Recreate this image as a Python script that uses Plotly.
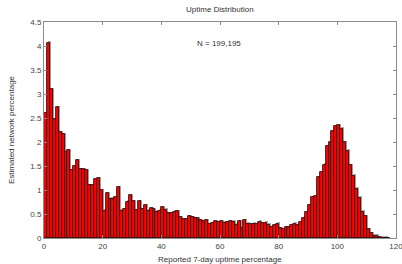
import plotly.graph_objects as go

bins = list(range(0, 118))
values = [
    2.60, 4.07, 3.10, 2.47, 2.72, 2.20, 2.16, 1.80, 1.83, 1.42,
    1.50, 1.62, 1.43, 1.43, 1.41, 1.11, 1.11, 1.23, 1.25, 1.00,
    0.57, 0.94, 0.82, 0.82, 0.86, 1.06, 0.57, 0.61, 0.76, 0.90,
    0.77, 0.58, 0.77, 0.61, 0.69, 0.57, 0.63, 0.60, 0.55, 0.57,
    0.65, 0.59, 0.52, 0.52, 0.55, 0.56, 0.44, 0.40, 0.40, 0.45,
    0.44, 0.42, 0.41, 0.38, 0.36, 0.37, 0.29, 0.31, 0.36, 0.33,
    0.36, 0.32, 0.33, 0.35, 0.34, 0.28, 0.36, 0.21, 0.37, 0.30,
    0.29, 0.30, 0.29, 0.34, 0.31, 0.32, 0.28, 0.23, 0.27, 0.30,
    0.20, 0.19, 0.22, 0.22, 0.27, 0.30, 0.27, 0.33, 0.42, 0.54,
    0.68, 0.86, 0.87, 1.27, 1.37, 1.53, 1.92, 2.00, 2.22, 2.33,
    2.35, 2.28, 2.00, 1.82, 1.52, 1.30, 1.03, 0.84, 0.55, 0.45,
    0.18, 0.10, 0.05, 0.05, 0.02, 0.01, 0.01, 0.00,
]
x_ticks = [0, 20, 40, 60, 80, 100, 120]
y_ticks = [0, 0.5, 1, 1.5, 2, 2.5, 3, 3.5, 4, 4.5]
title = "Uptime Distribution"
x_title = "Reported 7-day uptime percentage"
y_title = "Estimated network percentage"
note = "N = 199,195"

FONT = "Liberation Sans, Arial, sans-serif"

fig = go.Figure()
# soft gray shadow behind each bar
fig.add_trace(go.Bar(
    x=[b + 0.35 for b in bins], y=[v + 0.025 if v > 0 else 0 for v in values],
    width=1, offset=0, marker=dict(color="#a8a8a8", line=dict(width=0)),
    hoverinfo="skip", showlegend=False,
))
fig.add_trace(go.Bar(
    x=bins, y=values, width=1, offset=0,
    marker=dict(color="#ff0000", line=dict(color="#200000", width=0.8)),
    showlegend=False,
))

axis_common = dict(
    showgrid=False, zeroline=False, showline=True, linecolor="#8c8c8c",
    linewidth=1, mirror="ticks", ticks="inside", ticklen=3, tickcolor="#8c8c8c",
    automargin=False, ticklabeloverflow="allow",
    tickfont=dict(family=FONT, size=8, color="#444444"),
)
fig.update_xaxes(range=[0, 120], tickvals=x_ticks, ticktext=[str(t) for t in x_ticks], **axis_common)
fig.update_yaxes(range=[0, 4.5], tickvals=y_ticks, ticktext=[f"{t:g}" for t in y_ticks], **axis_common)

fig.add_annotation(x=59.7, y=4.06, text=note, showarrow=False, xref="x", yref="y",
                   font=dict(family=FONT, size=8, color="#333333"))
fig.add_annotation(x=0.5, y=0, yshift=-21, xref="paper", yref="paper", text=x_title, showarrow=False,
                   xanchor="center", yanchor="middle", font=dict(family=FONT, size=8, color="#333333"))
fig.add_annotation(x=0, xshift=-33, y=0.5, xref="paper", yref="paper", text=y_title, showarrow=False,
                   textangle=-90, xanchor="center", yanchor="middle",
                   font=dict(family=FONT, size=8, color="#333333"))
fig.add_annotation(x=0.5, y=1.0, yshift=13, xref="paper", yref="paper", text=title, showarrow=False,
                   xanchor="center", yanchor="middle", font=dict(family=FONT, size=8, color="#333333"))

fig.update_layout(
    width=402, height=264,
    margin=dict(l=44, r=6, t=22, b=26, autoexpand=False),
    paper_bgcolor="white", plot_bgcolor="white",
    barmode="overlay", bargap=0,
)
fig.write_html("out.html", config={"displayModeBar": False},
               post_script="document.body.style.margin='0';")
